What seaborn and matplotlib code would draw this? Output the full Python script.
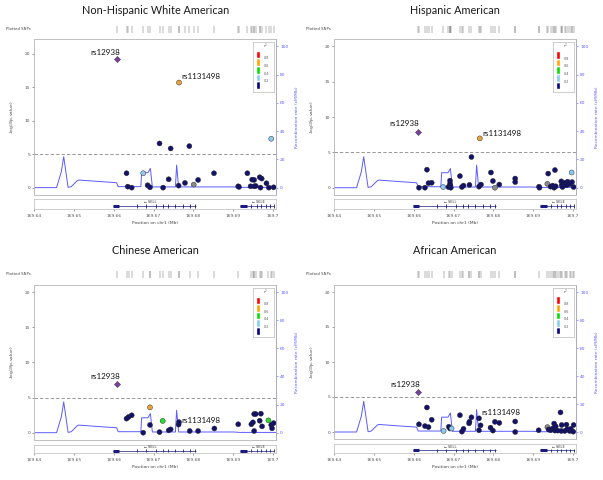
import numpy as np
import pandas as pd
import seaborn as sns
import matplotlib.pyplot as plt

W, H = 603, 480

# recombination rate (cM/Mb), same map in every panel
recomb_pos = [169.6400, 169.6456, 169.6468, 169.6474, 169.6485, 169.6493, 169.6508, 169.6512,
              169.6560, 169.6607, 169.6611, 169.6668, 169.6670, 169.6686, 169.6692, 169.6697,
              169.6755, 169.6758, 169.6763, 169.6900, 169.6917, 169.7008]
recomb_rate = [0.0, 0.0, 11.3, 21.9, 0.2, 0.7, 4.9, 5.4,
               4.4, 3.5, 0.7, 0.7, 10.6, 10.6, 13.6, 0.5,
               0.5, 16.0, 0.5, 0.5, 0.2, 0.2]

# genes
sell_span = [169.6598, 169.6808]
sell_block = [169.6598, 169.6613]
sell_exons = [169.6659, 169.6682, 169.6707, 169.6724, 169.6737, 169.6754, 169.6774, 169.6791, 169.6804]
sele_span = [169.6917, 169.7002]
sele_block = [169.6917, 169.6936]
sele_exons = [169.6946, 169.6959, 169.6971, 169.6984, 169.6994, 169.7002]

lead_snp = "rs12938"
second_snp = "rs1131498"

# Non-Hispanic White American
nhw_pos = [169.6632, 169.6635, 169.6645, 169.6674, 169.6685, 169.6691, 169.6715, 169.6724,
           169.6738, 169.6743, 169.6763, 169.6764, 169.6779, 169.6790, 169.6801, 169.6812,
           169.6852, 169.6913, 169.6915, 169.6936, 169.6944, 169.6948, 169.6953, 169.6953,
           169.6957, 169.6967, 169.6969, 169.6972, 169.6984, 169.6990, 169.6996, 169.7002]
nhw_logp = [2.15, 0.15, 0.0, 2.15, 0.35, 0.05, 6.6, 0.0,
            1.25, 5.85, 0.3, 15.7, 0.7, 6.2, 0.45, 1.15,
            2.15, 0.2, 0.1, 2.15, 0.2, 1.2, 1.15, 0.2,
            0.25, 1.55, 0.0, 1.35, 0.65, 0.0, 7.3, 0.05]
nhw_ld = list("nnnbnnnn" "nnnonnxn" "nnnnnnnn" "nnnnnnbn")
nhw_lead = (169.6609, 19.2)
nhw_second = (169.6764, 15.7)

# Hispanic American
his_pos = [169.6613, 169.6628, 169.6633, 169.6637, 169.6645, 169.6674, 169.6687, 169.6691,
           169.6691, 169.6692, 169.6693, 169.6716, 169.6721, 169.6725, 169.6740, 169.6745,
           169.6764, 169.6766, 169.6769, 169.6794, 169.6799, 169.6804, 169.6815, 169.6855,
           169.6855, 169.6915, 169.6916, 169.6936, 169.6938, 169.6944, 169.6949, 169.6953,
           169.6955, 169.6957, 169.6971, 169.6972, 169.6974, 169.6980, 169.6984, 169.6987,
           169.6992, 169.6997, 169.6998, 169.7002]
his_logp = [0.0, 0.0, 2.55, 0.65, 0.7, 0.1, 0.1, 1.0,
            0.55, 0.3, 0.0, 1.65, 0.1, 0.3, 0.4, 4.35,
            0.15, 6.98, 0.45, 2.15, 0.95, 0.0, 0.45, 1.3,
            0.8, 0.15, 0.0, 0.55, 2.0, 0.15, 0.3, 0.0,
            2.5, 0.2, 0.9, 0.35, 0.1, 0.7, 0.35, 0.85,
            0.5, 2.15, 0.8, 0.1]
his_ld = list("nnnnnbnn" "nnnnnnnn" "nonnnxnn" "nnnxnnnn" "nnnnnnnn" "nbnn")
his_lead = (169.6611, 7.9)
his_second = (169.6766, 6.98)

# Chinese American
chi_pos = [169.6632, 169.6637, 169.6645, 169.6674, 169.6691, 169.6691, 169.6715, 169.6723,
           169.6738, 169.6743, 169.6763, 169.6764, 169.6791, 169.6812, 169.6853, 169.6913,
           169.6946, 169.6950, 169.6953, 169.6957, 169.6953, 169.6967, 169.6970, 169.6973,
           169.6989, 169.6996, 169.6998, 169.7002]
chi_logp = [2.0, 2.23, 2.47, 0.0, 3.6, 1.1, 0.08, 1.67,
            0.33, 0.47, 1.15, 1.5, 0.24, 0.24, 0.6, 1.2,
            1.2, 1.47, 2.65, 2.65, 0.24, 1.7, 2.7, 0.9,
            1.75, 1.1, 0.62, 1.36]
chi_ld = list("nnnnonng" "nnnnnnnn" "nnnnnnnn" "gnnn")
chi_lead = (169.6609, 6.97)
chi_second = (169.6764, 1.5)

# African American
afr_pos = [169.6613, 169.6628, 169.6633, 169.6637, 169.6645, 169.6675, 169.6688, 169.6691,
           169.6695, 169.6716, 169.6721, 169.6725, 169.6739, 169.6740, 169.6745, 169.6764,
           169.6764, 169.6768, 169.6793, 169.6799, 169.6804, 169.6815, 169.6855, 169.6855,
           169.6914, 169.6936, 169.6939, 169.6944, 169.6949, 169.6953, 169.6955, 169.6957,
           169.6962, 169.6969, 169.6971, 169.6972, 169.6980, 169.6984, 169.6986, 169.6992,
           169.6995, 169.7002, 169.7001]
afr_logp = [1.1, 0.85, 3.5, 0.7, 1.75, 0.14, 0.75, 0.5,
            0.5, 2.4, 0.05, 0.45, 1.24, 1.47, 2.1, 1.95,
            0.25, 0.95, 0.62, 0.2, 1.45, 1.3, 1.5, 0.0,
            0.25, 0.7, 0.35, 0.25, 0.5, 1.2, 0.2, 0.8,
            0.2, 2.8, 0.15, 1.0, 0.15, 1.05, 0.4, 0.15,
            0.45, 1.0, 0.05]
afr_ld = list("nnnnnbnn" "bnnnnnnn" "nnnnnnnn" "nxnnnnnn" "nnnnnnnn" "nnn")
afr_lead = (169.6611, 5.76)
afr_second = (169.6764, 1.95)

x_ticks = [169.64, 169.65, 169.66, 169.67, 169.68, 169.69, 169.70]
x_ticklabels = ["169.64", "169.65", "169.66", "169.67", "169.68", "169.69", "169.7"]

ld_palette = {"n": "#12126a", "b": "#8ec9ee", "g": "#22e022", "o": "#e8a33a", "x": "#8a8a8a"}
legend_colors = ["#000080", "#87ceeb", "#00e000", "#ffa500", "#ff0000"]
recomb_color = "#5b5bff"
lead_color = "#7a3f9d"

sns.set_style("white")
plt.rcParams["font.family"] = ["DejaVu Sans"]


def box(x0, y0, x1, y1):
    return [x0 / W, 1 - y1 / H, (x1 - x0) / W, (y1 - y0) / H]


def draw_panel(fig, title, pos, logp, ld, lead, second, lay):
    fx0, fy0, fx1, fy1 = lay["frame"]
    xlim = (169.64, 169.7008)
    ymin, ymax = lay["ylim"]
    k = lay["k"]

    fig.text((fx0 + fx1) / 2 / W, 1 - lay["title_y"] / H, title, family="Lato",
             fontsize=7.8, ha="center", va="center", color="#1a1a1a")

    # plotted SNPs rug
    rug = fig.add_axes(box(fx0, lay["rug"][0], fx1, lay["rug"][1]))
    rug.vlines(pos + [lead[0]], 0, 1, color="#555", lw=0.3)
    rug.set_xlim(xlim)
    rug.set_ylim(0, 1)
    rug.axis("off")
    fig.text((fx0 - 28) / W, 1 - (lay["rug"][0] + lay["rug"][1]) / 2 / H, "Plotted SNPs",
             fontsize=2.8, color="#444", va="center")

    ax = fig.add_axes(box(fx0, fy0, fx1, fy1))
    ax2 = ax.twinx()
    ax.set_zorder(ax2.get_zorder() + 1)
    ax.patch.set_visible(False)

    sns.lineplot(x=recomb_pos, y=recomb_rate, ax=ax2, color=recomb_color, lw=0.7,
                 estimator=None, sort=False)
    ax2.set_ylim(ymin * k, ymax * k)
    ax2.set_yticks([0, 20, 40, 60, 80, 100])
    ax2.tick_params(axis="y", colors=recomb_color, labelsize=3.2, length=1.5, width=0.4, pad=1.5)
    ax2.set_ylabel("Recombination rate (cM/Mb)", color=recomb_color, fontsize=3.2, labelpad=5)

    df = pd.DataFrame({"pos": pos, "logp": logp, "ld": ld})
    ax.axhline(5, color="#888", lw=0.6, ls=(0, (4, 2.5)), zorder=1)
    sns.scatterplot(data=df, x="pos", y="logp", hue="ld", palette=ld_palette, s=13,
                    edgecolor="#222", linewidth=0.3, legend=False, ax=ax, zorder=3)
    sns.scatterplot(x=[lead[0]], y=[lead[1]], marker="D", color=lead_color, s=10,
                    edgecolor="#333", linewidth=0.3, ax=ax, zorder=4)
    ax.annotate(lead_snp, lead, xytext=lay["lead_off"], textcoords="offset points",
                family="Lato", fontsize=5.8, ha="center", va="center", color="#111")
    ax.annotate(second_snp, second, xytext=lay["second_off"], textcoords="offset points",
                family="Lato", fontsize=5.8, ha="left", va="center", color="#111")

    ax.set_xlim(xlim)
    ax.set_ylim(ymin, ymax)
    ax.set_yticks([0, 5, 10, 15, 20])
    ax.set_xticks([])
    ax.set_xlabel("")
    ax.set_ylabel("-log$_{10}$(p-value)", fontsize=3.2, color="#444", labelpad=6)
    ax.tick_params(axis="y", colors="#555", labelsize=3.2, length=1.5, width=0.4, pad=1.5,
                   left=True)
    for a in (ax, ax2):
        for s in a.spines.values():
            s.set_color("#bbbbbb")
            s.set_linewidth(0.5)
    ax2.spines["right"].set_color(recomb_color)

    # r2 legend
    lg = ax.inset_axes([0.904, 0.663, 0.088, 0.32])
    lg.set_facecolor("white")
    for i, c in enumerate(legend_colors):
        lg.bar(0.24, 0.154, bottom=0.05 + i * 0.154, width=0.22, color=c)
    for i, lab in enumerate(["0.2", "0.4", "0.6", "0.8"]):
        lg.text(0.5, 0.05 + (i + 1) * 0.154, lab, fontsize=2.4, color="#555", va="center")
    lg.text(0.62, 0.91, "r$^2$", fontsize=2.8, color="#555", ha="center", va="center")
    lg.set_xlim(0, 1)
    lg.set_ylim(0, 1)
    lg.set_xticks([])
    lg.set_yticks([])
    for s in lg.spines.values():
        s.set_color("#bbbbbb")
        s.set_linewidth(0.5)
    lg.set_zorder(5)

    # gene track
    gx = fig.add_axes(box(fx0, lay["gene"][0], fx1, lay["gene"][1]))
    for span, block, exons, name, tx in [(sell_span, sell_block, sell_exons, "← SELL", 169.6691),
                                         (sele_span, sele_block, sele_exons, "← SELE", 169.6963)]:
        gx.hlines(0.32, span[0], span[1], color="#1a1a80", lw=0.5)
        gx.hlines(0.32, block[0], block[1], color="#1a1a80", lw=2.2)
        gx.vlines(exons, 0.15, 0.5, color="#1a1a80", lw=0.6)
        gx.text(tx, 0.72, name, fontsize=2.5, color="#333", ha="center", va="center")
    gx.set_xlim(xlim)
    gx.set_ylim(0, 1)
    gx.set_yticks([])
    gx.set_xticks(x_ticks)
    gx.set_xticklabels(x_ticklabels)
    gx.tick_params(axis="x", colors="#555", labelsize=3.2, length=1.5, width=0.4, pad=2,
                   bottom=True)
    for s in gx.spines.values():
        s.set_color("#bbbbbb")
        s.set_linewidth(0.5)
    gx.set_xlabel("Position on chr1 (Mb)", fontsize=3.2, color="#444", labelpad=2)


fig = plt.figure(figsize=(6.03, 4.80), dpi=100)

layouts = {
    "tl": dict(frame=(34.3, 39, 276, 195), rug=(26, 33), gene=(199.3, 209.3), title_y=10.5,
               ylim=(-1.1, 22.2), k=4.74, lead_off=(-9, 5), second_off=(2, 4.5)),
    "tr": dict(frame=(334.3, 39.3, 576, 195), rug=(26, 33), gene=(199.3, 209.3), title_y=10.7,
               ylim=(-1.03, 21.0), k=5.0, lead_off=(-10, 6), second_off=(2, 3.6)),
    "bl": dict(frame=(34.3, 285, 276, 440), rug=(271, 277.5), gene=(445, 453.3), title_y=251,
               ylim=(-1.04, 21.0), k=5.0, lead_off=(-9, 5.5), second_off=(2, 1)),
    "br": dict(frame=(334.3, 285, 576, 439), rug=(271, 277.5), gene=(444.3, 453.3), title_y=251,
               ylim=(-1.0, 21.0), k=5.0, lead_off=(-9, 5.5), second_off=(2, 4)),
}

draw_panel(fig, "Non-Hispanic White American", nhw_pos, nhw_logp, nhw_ld, nhw_lead, nhw_second, layouts["tl"])
draw_panel(fig, "Hispanic American", his_pos, his_logp, his_ld, his_lead, his_second, layouts["tr"])
draw_panel(fig, "Chinese American", chi_pos, chi_logp, chi_ld, chi_lead, chi_second, layouts["bl"])
draw_panel(fig, "African American", afr_pos, afr_logp, afr_ld, afr_lead, afr_second, layouts["br"])

fig.savefig("out.png", dpi=100)
